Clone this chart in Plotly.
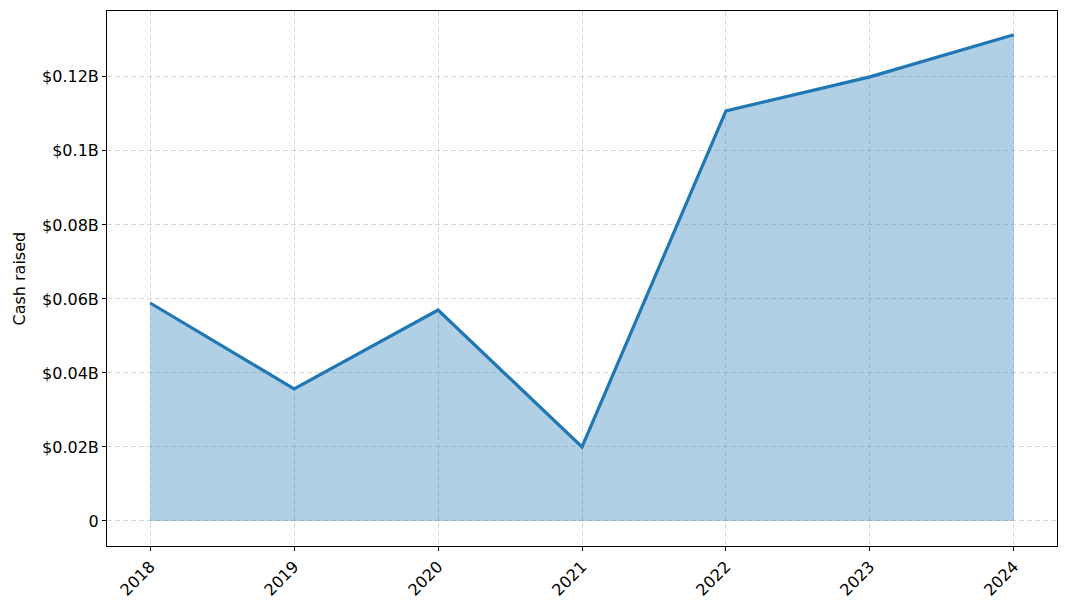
import plotly.graph_objects as go

years = [2018, 2019, 2020, 2021, 2022, 2023, 2024]
year_labels = [str(y) for y in years]
cash_raised = [0.0589, 0.0357, 0.0570, 0.0200, 0.1108, 0.1200, 0.1314]  # billions USD
y_ticks = [0, 0.02, 0.04, 0.06, 0.08, 0.10, 0.12]
y_tick_labels = ["0", "$0.02B", "$0.04B", "$0.06B", "$0.08B", "$0.1B", "$0.12B"]

fig = go.Figure()
fig.add_trace(go.Scatter(
    x=years, y=cash_raised, mode="lines",
    line=dict(color="#1f77b4", width=3.2),
    fill="tozeroy", fillcolor="rgba(31,119,180,0.35)",
    hoverinfo="x+y", showlegend=False,
))

W, H = 1069, 612
left, right, top, bottom = 107, 12, 11, 66
font = dict(family="DejaVu Sans", size=16, color="black")

axis_common = dict(
    showline=True, linecolor="black", linewidth=1, mirror=True,
    ticks="outside", ticklen=4, tickwidth=1, tickcolor="black",
    showgrid=True, gridcolor="rgba(200,200,200,0.7)", griddash="5px,3px", gridwidth=1,
    zeroline=False, layer="above traces", tickfont=font,
)

fig.update_layout(
    width=W, height=H,
    margin=dict(l=left, r=right, t=top, b=bottom),
    plot_bgcolor="white", paper_bgcolor="white",
    font=font,
    xaxis=dict(axis_common, range=[2017.7, 2024.3], tickvals=years, ticktext=year_labels, tickangle=-45),
    yaxis=dict(axis_common, range=[-0.00676, 0.1378], tickvals=y_ticks, ticktext=y_tick_labels),
    annotations=[dict(
        text="Cash raised", textangle=-90, showarrow=False,
        xref="paper", yref="paper", x=(19 - left) / (W - left - right), y=0.5,
        xanchor="center", yanchor="middle", font=font,
    )],
)

fig.write_html("out.html", config={"displayModeBar": False},
               post_script="document.body.style.margin='0';document.body.style.padding='0';")
